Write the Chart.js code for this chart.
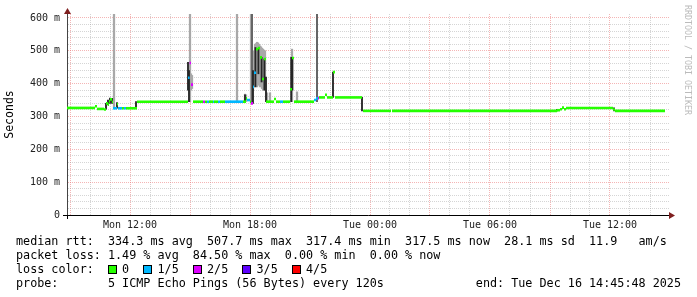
<!DOCTYPE html>
<html lang="en">
<head>
<meta charset="UTF-8">
<title>SmokePing latency</title>
<script src="https://cdn.jsdelivr.net/npm/chart.js"></script>
<style>
  body { margin: 0; background: #fff; }
  #wrap { position: relative; width: 697px; height: 297px; overflow: hidden; font-family: 'DejaVu Sans Mono', monospace; }
  #graph { position: absolute; left: 0; top: 0; }
  .leg { position: absolute; left: 16px; font-size: 11.76px; line-height: 14px; white-space: pre; color: #000; }
  .box { display: inline-block; width: 9px; height: 9px; border: 1px solid #000; box-sizing: border-box; vertical-align: -1px; margin-right: calc(2ch - 9px); }
  #end { left: auto; right: 16px; }
  #mark { position: absolute; left: 683px; top: 5px; writing-mode: vertical-rl; font-size: 8.3px; color: #bbb; }
</style>
</head>
<body>
<div id="wrap">
  <canvas id="graph" width="697" height="297"></canvas>
  <div class="leg" style="top:234px">median rtt:  334.3 ms avg  507.7 ms max  317.4 ms min  317.5 ms now  28.1 ms sd  11.9   am/s</div>
  <div class="leg" style="top:248px">packet loss: 1.49 % avg  84.50 % max  0.00 % min  0.00 % now</div>
  <div class="leg" id="lossRow" style="top:262px"></div>
  <div class="leg" style="top:276px">probe:       5 ICMP Echo Pings (56 Bytes) every 120s</div>
  <div class="leg" id="end" style="top:276px">end: Tue Dec 16 14:45:48 2025</div>
  <div id="mark">RRDTOOL / TOBI OETIKER</div>
</div>
<script>
// time axis = hours since Mon 00:00
const xTickHours = [12, 18, 24, 30, 36];
const xTickLabels = ['Mon 12:00', 'Mon 18:00', 'Tue 00:00', 'Tue 06:00', 'Tue 12:00'];

// loss levels
const lossLabels = ['0', '1/5', '2/5', '3/5', '4/5'];
const lossColors = ['#26ff00', '#00b8ff', '#dd00ff', '#5e00ff', '#ff0000'];

// median rtt (ms), value holds until next point
const medHours = [8.85, 10.25, 10.35, 10.70, 10.80, 10.90, 10.95, 11.00, 11.10, 11.15, 11.35, 11.40, 11.60, 11.70, 11.80,
  12.35, 14.90, 14.98, 15.05, 15.15, 15.65, 15.75, 15.85, 15.95, 16.15, 16.20, 16.40, 16.50, 16.75, 17.65, 17.80, 17.85,
  18.00, 18.05, 18.15, 18.20, 18.30, 18.40, 18.50, 18.60, 18.70, 18.80, 19.20, 19.30, 19.50, 19.65, 20.00, 20.10, 20.20,
  21.20, 21.30, 21.40, 21.45, 21.75, 21.85, 22.15, 22.25, 23.60, 23.65, 25.05, 25.10, 33.35, 33.50, 33.60, 33.70, 33.80,
  36.15, 36.25, 38.75];
const medMs = [326, 331, 323, 321, 340, 336, 346, 352, 344, 325, 338, 325, 325, 325, 325,
  345, 418, 463, 397, 345, 345, 345, 345, 345, 345, 345, 345, 345, 345, 345, 355, 350,
  345, 340, 390, 433, 505, 508, 480, 414, 475, 345, 353, 345, 345, 345, 383, 478, 345,
  350, 355, 356, 358, 366, 358, 435, 358, 330, 317, 314, 317, 319, 322, 327, 322, 326,
  321, 317, 317];
const medLoss = [0, 0, 0, 0, 0, 0, 0, 0, 0, 1, 0, 1, 0, 1, 0,
  0, 1, 2, 2, 0, 2, 0, 1, 0, 1, 0, 1, 0, 1, 0, 0, 1,
  0, 2, 1, 1, 0, 0, 0, 0, 0, 0, 0, 0, 1, 0, 0, 0, 0,
  1, 1, 2, 0, 0, 0, 0, 0, 0, 0, 0, 0, 0, 0, 0, 0, 0,
  0, 0, 0];

// smoke (ping spread), light grey
const smokeHours = [11.20, 15.00, 15.05, 15.10, 17.35, 17.75, 17.80, 18.05, 18.15, 18.20, 18.25, 18.30, 18.35, 18.40, 18.45,
  18.50, 18.55, 18.60, 18.65, 18.70, 18.75, 18.85, 19.00, 20.10, 20.35];
const smokeLo = [325, 345, 380, 385, 345, 345, 345, 340, 380, 390, 400, 395, 390, 400, 395, 390, 400, 385, 380, 390, 395, 345, 345, 345, 345];
const smokeHi = [612, 612, 430, 425, 612, 368, 366, 612, 445, 500, 520, 522, 526, 524, 520, 515, 512, 508, 505, 502, 500, 372, 372, 505, 375];

// smoke, mid grey
const midHours = [18.10, 21.35];
const midLo = [345, 345];
const midHi = [612, 612];

// smoke, dark core
const darkHours = [10.80, 10.90, 11.00, 11.10, 11.35, 12.30, 14.90, 14.95, 17.75, 18.15, 18.27, 18.42, 18.58, 18.72, 18.80,
  20.06, 20.12, 22.15, 23.60, 33.35, 36.20];
const darkLo = [322, 335, 340, 340, 325, 325, 380, 345, 345, 340, 390, 430, 405, 380, 345, 345, 380, 358, 317, 317, 317];
const darkHi = [340, 350, 356, 355, 342, 345, 465, 440, 366, 440, 510, 505, 480, 475, 420, 480, 480, 435, 358, 322, 326];

document.getElementById('lossRow').innerHTML = 'loss color:  ' + lossLabels.map((l, i) =>
  '<span class="box" style="background:' + lossColors[i] + '"></span>' + l).join('  ');

const toBars = (hs, lo, hi) => hs.map((h, i) => ({ x: h, y: [lo[i], hi[i]] }));

// median drawn as flat pieces only (no coloured risers), like smokeping's stacked band
const medPts = [];
const medPtLoss = [];
for (let i = 0; i < medHours.length - 1; i++) {
  medPts.push({ x: medHours[i], y: medMs[i] }, { x: medHours[i + 1], y: medMs[i] }, { x: medHours[i + 1], y: null });
  medPtLoss.push(medLoss[i], medLoss[i], medLoss[i]);
}

const axisArrows = {
  id: 'axisArrows',
  afterDraw(chart) {
    const { ctx, chartArea: a } = chart;
    ctx.save();
    ctx.strokeStyle = '#000';
    ctx.lineWidth = 1;
    ctx.beginPath();
    ctx.moveTo(a.left - 4, a.bottom + 0.5);
    ctx.lineTo(a.left, a.bottom + 0.5);
    ctx.moveTo(a.left + 0.5, a.bottom);
    ctx.lineTo(a.left + 0.5, a.bottom + 4);
    ctx.stroke();
    ctx.fillStyle = '#7f1f1f';
    ctx.beginPath();
    ctx.moveTo(a.left + 0.5, a.top - 6);
    ctx.lineTo(a.left - 3, a.top);
    ctx.lineTo(a.left + 4, a.top);
    ctx.fill();
    ctx.beginPath();
    ctx.moveTo(a.right + 6, a.bottom + 0.5);
    ctx.lineTo(a.right, a.bottom - 3);
    ctx.lineTo(a.right, a.bottom + 4);
    ctx.fill();
    ctx.restore();
  }
};

Chart.defaults.font.family = "'DejaVu Sans Mono', monospace";

const majorGrid = 'rgba(235,120,120,0.55)';
const minorGrid = 'rgba(150,150,150,0.4)';

new Chart(document.getElementById('graph'), {
  type: 'line',
  data: {
    datasets: [
      {
        type: 'line',
        data: medPts,
        spanGaps: false,
        borderWidth: 2.6,
        borderCapStyle: 'butt',
        pointRadius: 0,
        borderColor: lossColors[0],
        segment: { borderColor: c => lossColors[medPtLoss[c.p0DataIndex]] },
        order: 0
      },
      { type: 'bar', data: toBars(darkHours, darkLo, darkHi), backgroundColor: '#262626', barThickness: 1.2, grouped: false, order: 1 },
      { type: 'bar', data: toBars(midHours, midLo, midHi), backgroundColor: '#666', barThickness: 1.4, grouped: false, order: 2 },
      { type: 'bar', data: toBars(smokeHours, smokeLo, smokeHi), backgroundColor: '#a8a8a8', barThickness: 1.6, grouped: false, order: 3 }
    ]
  },
  options: {
    responsive: false,
    animation: false,
    layout: { padding: { top: 14, right: 28, left: 0, bottom: 0 } },
    plugins: { legend: { display: false }, tooltip: { enabled: false } },
    scales: {
      x: {
        type: 'linear',
        min: 8.85,
        max: 38.95,
        offset: false,
        afterFit: s => { s.height = 82; },
        border: { color: '#000', width: 1, dash: [1, 1] },
        grid: {
          offset: false,
          drawTicks: false,
          color: c => (c.tick && c.tick.value % 3 === 0) ? majorGrid : minorGrid
        },
        ticks: {
          stepSize: 1,
          includeBounds: false,
          autoSkip: false,
          maxRotation: 0,
          padding: 4,
          color: '#222',
          font: { size: 10 },
          callback: v => { const i = xTickHours.indexOf(v); return i >= 0 ? xTickLabels[i] : ''; }
        }
      },
      y: {
        type: 'linear',
        min: 0,
        max: 612,
        afterFit: s => { s.width = 67; },
        border: { color: '#444', width: 1, dash: [1, 1] },
        grid: {
          drawTicks: false,
          color: c => (c.tick && c.tick.value % 100 === 0) ? majorGrid : minorGrid
        },
        title: { display: true, text: 'Seconds', color: '#000', font: { size: 11.5 }, padding: { top: 3, bottom: 0 } },
        ticks: {
          stepSize: 20,
          includeBounds: false,
          autoSkip: false,
          padding: 7,
          color: '#222',
          font: { size: 10 },
          callback: v => v % 100 === 0 ? (v === 0 ? '0' : v + ' m') : ''
        }
      }
    }
  },
  plugins: [axisArrows]
});
</script>
</body>
</html>
